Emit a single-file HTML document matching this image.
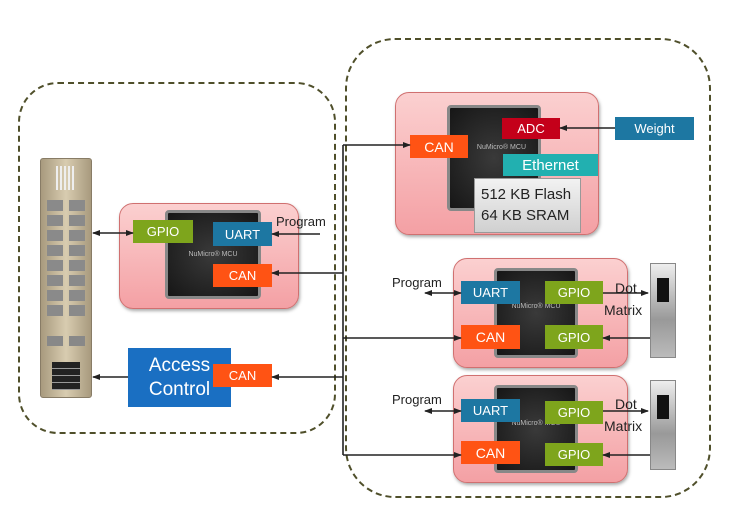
<!DOCTYPE html>
<html><head><meta charset="utf-8"><style>
body{margin:0;width:729px;height:510px;background:#fff;position:relative;overflow:hidden;font-family:"Liberation Sans",sans-serif}
.a{position:absolute;box-sizing:border-box}
.dash{border:2px dashed #4f4f2a;border-radius:40px}
.pink{background:linear-gradient(#fbd0d0,#f4a0a4);border:1px solid #d07070;border-radius:14px;box-shadow:1px 2px 3px #aaa}
.chip{background:radial-gradient(#3a3a3a,#161616);border:3px solid #888;border-radius:4px;color:#bbb;font-size:7px;text-align:center}
.lb{color:#fff;display:flex;align-items:center;justify-content:center;font-size:13px}
.g{background:#7ea51c}.u{background:#1d77a2}.c{background:#ff5314}
.t{position:absolute;font-size:13px;color:#222}
</style></head><body>
<div class="a dash" style="left:18px;top:82px;width:318px;height:352px"></div>
<div class="a dash" style="left:345px;top:38px;width:366px;height:460px;border-radius:50px"></div>

<div class="a" style="left:40px;top:158px;width:52px;height:240px;background:linear-gradient(90deg,#a89a7e,#d8ccb0,#a89a7e);border:1px solid #887c66;border-radius:3px"></div>
<div class="a" style="left:56px;top:166px;width:20px;height:24px;background:repeating-linear-gradient(90deg,#eee 0 2px,transparent 2px 4px)"></div>
<div class="a" style="left:47px;top:200px;width:38px;height:120px;background:repeating-linear-gradient(#8a8a8a 0 11px,transparent 11px 15px);-webkit-mask:linear-gradient(90deg,#000 0 16px,transparent 16px 22px,#000 22px)"></div>
<div class="a" style="left:47px;top:336px;width:38px;height:10px;background:linear-gradient(90deg,#888 0 16px,transparent 16px 22px,#888 22px)"></div>
<div class="a" style="left:52px;top:362px;width:28px;height:28px;background:repeating-linear-gradient(#222 0 6px,#999 6px 7px)"></div>

<div class="a pink" style="left:119px;top:203px;width:180px;height:106px"></div>
<div class="a chip" style="left:165px;top:210px;width:96px;height:89px;padding-top:38px">NuMicro® MCU</div>
<div class="a lb g" style="left:133px;top:220px;width:60px;height:23px">GPIO</div>
<div class="a lb u" style="left:213px;top:222px;width:59px;height:24px">UART</div>
<div class="a lb c" style="left:213px;top:264px;width:59px;height:23px">CAN</div>
<div class="t" style="left:276px;top:214px">Program</div>

<div class="a lb" style="left:128px;top:348px;width:103px;height:59px;background:#1a6fc2;font-size:19px;line-height:24px;text-align:center;flex-direction:column">Access<br>Control</div>
<div class="a lb c" style="left:213px;top:364px;width:59px;height:23px">CAN</div>

<div class="a pink" style="left:395px;top:92px;width:204px;height:143px"></div>
<div class="a chip" style="left:447px;top:105px;width:94px;height:106px;padding-top:36px;text-align:right;padding-right:12px">NuMicro® MCU</div>
<div class="a lb" style="left:502px;top:118px;width:58px;height:21px;background:#c4001a">ADC</div>
<div class="a lb c" style="left:410px;top:135px;width:58px;height:23px;font-size:14px">CAN</div>
<div class="a lb" style="left:503px;top:154px;width:95px;height:22px;background:#22b0b0;font-size:15px">Ethernet</div>
<div class="a" style="left:474px;top:178px;width:107px;height:55px;background:linear-gradient(#f2f2f2,#d0d0d0);border:1px solid #999;font-size:15px;line-height:21px;padding:5px 0 0 6px;color:#222">512 KB Flash<br>64 KB SRAM</div>
<div class="a lb u" style="left:615px;top:117px;width:79px;height:23px">Weight</div>

<div class="a pink" style="left:453px;top:258px;width:175px;height:110px"></div>
<div class="a chip" style="left:494px;top:268px;width:84px;height:90px;padding-top:32px">NuMicro® MCU</div>
<div class="a lb u" style="left:461px;top:281px;width:59px;height:23px">UART</div>
<div class="a lb g" style="left:545px;top:281px;width:58px;height:23px">GPIO</div>
<div class="a lb c" style="left:461px;top:325px;width:59px;height:24px;font-size:14px">CAN</div>
<div class="a lb g" style="left:545px;top:325px;width:58px;height:24px">GPIO</div>
<div class="t" style="left:392px;top:275px">Program</div>
<div class="t" style="left:615px;top:280px;font-size:14px">Dot</div>
<div class="t" style="left:604px;top:302px;font-size:14px">Matrix</div>
<div class="a" style="left:650px;top:263px;width:26px;height:95px;background:linear-gradient(#eee,#999 60%,#bbb);border:1px solid #888"></div>
<div class="a" style="left:657px;top:278px;width:12px;height:24px;background:#111"></div>

<div class="a pink" style="left:453px;top:375px;width:175px;height:108px"></div>
<div class="a chip" style="left:494px;top:385px;width:84px;height:88px;padding-top:32px">NuMicro® MCU</div>
<div class="a lb u" style="left:461px;top:399px;width:59px;height:23px">UART</div>
<div class="a lb g" style="left:545px;top:401px;width:58px;height:23px">GPIO</div>
<div class="a lb c" style="left:461px;top:441px;width:59px;height:23px;font-size:14px">CAN</div>
<div class="a lb g" style="left:545px;top:443px;width:58px;height:23px">GPIO</div>
<div class="t" style="left:392px;top:392px">Program</div>
<div class="t" style="left:615px;top:396px;font-size:14px">Dot</div>
<div class="t" style="left:604px;top:418px;font-size:14px">Matrix</div>
<div class="a" style="left:650px;top:380px;width:26px;height:90px;background:linear-gradient(#eee,#999 60%,#bbb);border:1px solid #888"></div>
<div class="a" style="left:657px;top:395px;width:12px;height:24px;background:#111"></div>

<svg class="a" style="left:0;top:0" width="729" height="510">
<defs><marker id="m" markerWidth="8" markerHeight="8" refX="7" refY="4" orient="auto-start-reverse" markerUnits="userSpaceOnUse"><path d="M0,1 L8,4 L0,7z" fill="#222"/></marker></defs>
<g stroke="#222" stroke-width="1.6" fill="none">
<path d="M343,145 V455"/>
<path d="M343,145 H410" marker-end="url(#m)"/>
<path d="M343,273 H272" marker-end="url(#m)"/>
<path d="M343,338 H461" marker-end="url(#m)"/>
<path d="M343,377 H272" marker-end="url(#m)"/>
<path d="M343,455 H461" marker-end="url(#m)"/>
<path d="M93,233 H133" marker-start="url(#m)" marker-end="url(#m)"/>
<path d="M320,234 H272" marker-end="url(#m)"/>
<path d="M128,377 H93" marker-end="url(#m)"/>
<path d="M615,128 H560" marker-end="url(#m)"/>
<path d="M425,293 H461" marker-start="url(#m)" marker-end="url(#m)"/>
<path d="M603,293 H648" marker-end="url(#m)"/>
<path d="M650,338 H603" marker-end="url(#m)"/>
<path d="M425,411 H461" marker-start="url(#m)" marker-end="url(#m)"/>
<path d="M603,411 H648" marker-end="url(#m)"/>
<path d="M650,455 H603" marker-end="url(#m)"/>
</g></svg>
</body></html>
